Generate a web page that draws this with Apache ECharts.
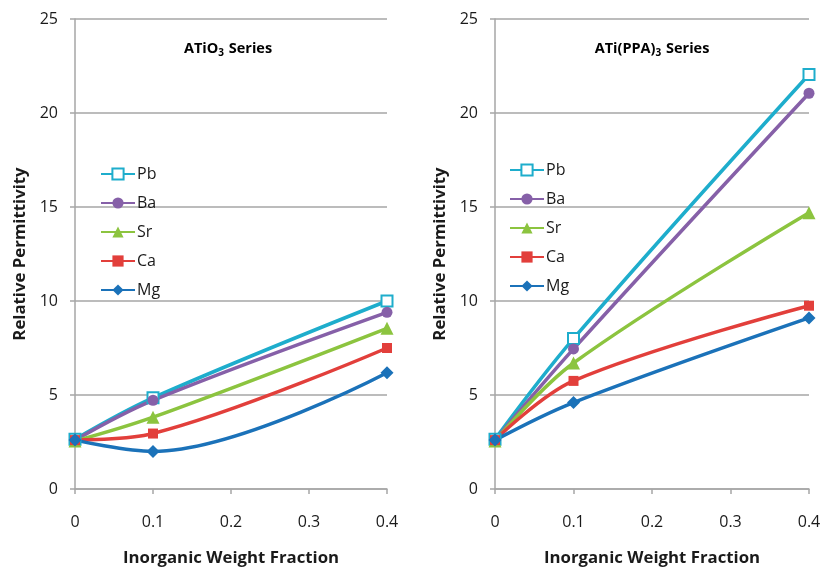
<!DOCTYPE html>
<html>
<head>
<meta charset="utf-8">
<script src="https://cdn.jsdelivr.net/npm/echarts@6/dist/echarts.min.js"></script>
<style>html,body{margin:0;padding:0;background:#fff}#c{width:824px;height:572px}</style>
</head>
<body>
<div id="c"></div>
<script>
var xValues = [0, 0.1, 0.4];
var seriesNames = ['Pb', 'Ba', 'Sr', 'Ca', 'Mg'];
// ATiO3 series (left)
var leftPb = [2.65, 4.85, 10.0];
var leftBa = [2.6, 4.72, 9.4];
var leftSr = [2.55, 3.82, 8.55];
var leftCa = [2.6, 2.95, 7.5];
var leftMg = [2.6, 2.0, 6.18];
// ATi(PPA)3 series (right)
var rightPb = [2.65, 8.0, 22.05];
var rightBa = [2.6, 7.45, 21.05];
var rightSr = [2.55, 6.7, 14.7];
var rightCa = [2.6, 5.75, 9.75];
var rightMg = [2.6, 4.6, 9.1];
var xTicks = ['0', '0.1', '0.2', '0.3', '0.4'];
var yTicks = [0, 5, 10, 15, 20, 25];

var colors = {Pb: '#1eadcc', Ba: '#8660a8', Sr: '#8cc43f', Ca: '#e23f3b', Mg: '#1b72b9'};
var symbols = {Pb: 'emptyRect', Ba: 'circle', Sr: 'triangle', Ca: 'rect', Mg: 'diamond'};
var sizes = {Pb: 11, Ba: 11, Sr: 13, Ca: 10, Mg: 13};
var FONT = '"Open Sans", sans-serif';
var TXT = '#1a1a1a';

function pairs(vals) { return xValues.map(function (x, i) { return [x, vals[i]]; }); }

function mkSeries(name, vals, idx) {
  return {
    name: name, type: 'line', xAxisIndex: idx, yAxisIndex: idx,
    data: pairs(vals), smooth: 0.35,
    symbol: symbols[name], symbolSize: sizes[name],
    lineStyle: {color: colors[name], width: 3.5},
    itemStyle: {color: colors[name], borderColor: colors[name], borderWidth: name === 'Pb' ? 1.8 : 0},
    color: colors[name],
    emphasis: {disabled: true},
    animation: false
  };
}

function xAxis(idx) {
  return {
    type: 'value', gridIndex: idx, min: 0, max: 0.4, interval: 0.1,
    name: 'Inorganic Weight Fraction', nameLocation: 'middle', nameGap: 61,
    nameTextStyle: {fontFamily: FONT, fontWeight: 'bold', fontSize: 16.8, color: TXT},
    axisLine: {show: true, lineStyle: {color: '#a6a6a6', width: 1.5}},
    axisTick: {show: true, inside: false, length: 5, lineStyle: {color: '#a6a6a6', width: 1.5}},
    axisLabel: {margin: 25, fontFamily: FONT, fontSize: 16, color: TXT,
      formatter: function (v) { return xTicks[Math.round(v * 10)]; }},
    splitLine: {show: false}
  };
}
function yAxis(idx) {
  return {
    type: 'value', gridIndex: idx, min: 0, max: 25, interval: 5,
    name: 'Relative Permittivity', nameLocation: 'middle', nameGap: 46,
    nameTextStyle: {fontFamily: FONT, fontWeight: 'bold', fontSize: 16.8, color: TXT},
    axisLine: {show: true, lineStyle: {color: '#a6a6a6', width: 1.5}},
    axisTick: {show: true, inside: false, length: 5, lineStyle: {color: '#a6a6a6', width: 1.5}},
    axisLabel: {margin: 17, fontFamily: FONT, fontSize: 16, color: TXT,
      formatter: function (v) { return yTicks.indexOf(v) >= 0 ? String(v) : ''; }},
    splitLine: {show: true, lineStyle: {color: '#a6a6a6', width: 1.5}}
  };
}
function legend(left, top) {
  return {
    orient: 'vertical', left: left, top: top, itemWidth: 34, itemHeight: 14, itemGap: 11,
    data: seriesNames,
    textStyle: {fontFamily: FONT, fontSize: 16, lineHeight: 18, color: TXT, padding: [0, 0, 0, -3]},
    selectedMode: false
  };
}
var titleRich = {
  b: {fontFamily: FONT, fontWeight: 'bold', fontSize: 14.5, color: TXT},
  s: {fontFamily: FONT, fontWeight: 'bold', fontSize: 10, color: TXT, verticalAlign: 'bottom', padding: [8, 1, 0, 0]}
};

var chart = echarts.init(document.getElementById('c'), null, {renderer: 'canvas'});
var leftSets = [leftPb, leftBa, leftSr, leftCa, leftMg];
var rightSets = [rightPb, rightBa, rightSr, rightCa, rightMg];
var series = [];
seriesNames.forEach(function (n, i) { series.push(mkSeries(n, leftSets[i], 0)); });
seriesNames.forEach(function (n, i) { series.push(mkSeries(n, rightSets[i], 1)); });

chart.setOption({
  backgroundColor: '#fff',
  animation: false,
  grid: [
    {left: 75, right: 437, top: 19, bottom: 80},
    {left: 495, right: 15, top: 19, bottom: 80}
  ],
  xAxis: [xAxis(0), xAxis(1)],
  yAxis: [yAxis(0), yAxis(1)],
  legend: [legend(95, 160), legend(504, 156)],
  graphic: [
    {type: 'text', x: 228, y: 49, style: {rich: titleRich, text: '{b|ATiO}{s|3}{b| Series}', align: 'center', verticalAlign: 'middle'}},
    {type: 'text', x: 652, y: 49, style: {rich: titleRich, text: '{b|ATi(PPA)}{s|3}{b| Series}', align: 'center', verticalAlign: 'middle'}}
  ],
  series: series
});
</script>
</body>
</html>
